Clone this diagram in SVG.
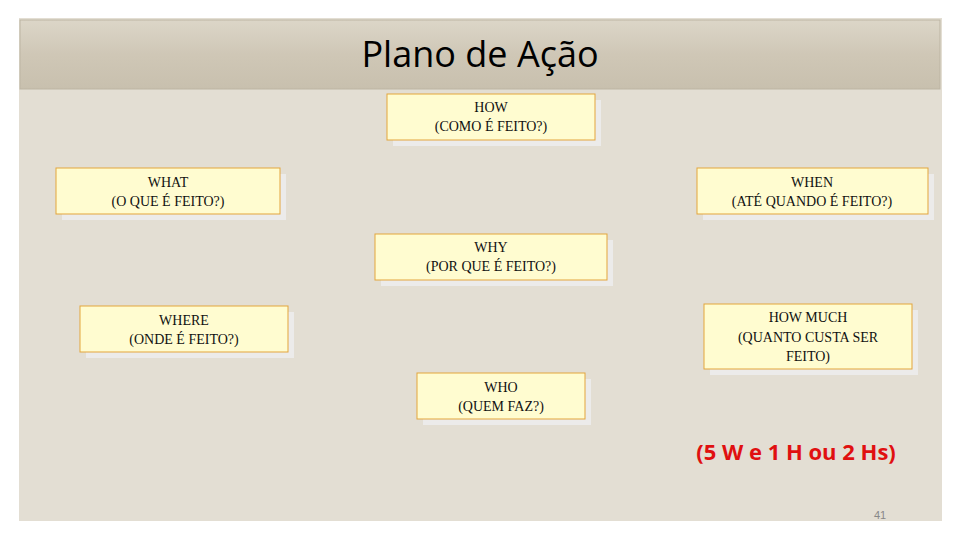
<svg xmlns="http://www.w3.org/2000/svg" width="960" height="540" viewBox="0 0 960 540">
<defs>
<linearGradient id="bar" x1="0" y1="0" x2="0" y2="1"><stop offset="0" stop-color="#dcd6c8"/><stop offset="0.5" stop-color="#cfc7b6"/><stop offset="1" stop-color="#c8c0ae"/></linearGradient>
</defs>
<style>
.sh{fill:#ecebea}
.bx{fill:#fffcd0;stroke:#e3a53c;stroke-width:1}
.t{font-family:"Liberation Serif",serif;font-size:14px;fill:#111;text-anchor:middle}
</style>
<rect width="960" height="540" fill="#fff"/>
<rect x="19" y="18" width="923" height="503" fill="#e3ded3"/>
<rect x="20" y="20" width="920" height="69" fill="url(#bar)" stroke="#bdb5a3"/>
<text x="480" y="67" font-family="Open Sans, 'Liberation Sans', sans-serif" font-size="36" text-anchor="middle" fill="#000">Plano de Ação</text>
<g id="connectors"/>
<g id="how"><rect class="sh" x="393" y="100" width="208" height="46"/><rect class="bx" x="387" y="94" width="208" height="46"/><text class="t" x="491" y="112">HOW</text><text class="t" x="491" y="131">(COMO É FEITO?)</text></g>
<g id="what"><rect class="sh" x="62" y="174" width="224" height="46"/><rect class="bx" x="56" y="168" width="224" height="46"/><text class="t" x="168" y="187">WHAT</text><text class="t" x="168" y="206">(O QUE É FEITO?)</text></g>
<g id="when"><rect class="sh" x="703" y="174" width="231" height="46"/><rect class="bx" x="697" y="168" width="231" height="46"/><text class="t" x="812" y="187">WHEN</text><text class="t" x="812" y="206">(ATÉ QUANDO É FEITO?)</text></g>
<g id="why"><rect class="sh" x="381" y="240" width="232" height="46"/><rect class="bx" x="375" y="234" width="232" height="46"/><text class="t" x="491" y="252">WHY</text><text class="t" x="491" y="271">(POR QUE É FEITO?)</text></g>
<g id="where"><rect class="sh" x="86" y="312" width="208" height="46"/><rect class="bx" x="80" y="306" width="208" height="46"/><text class="t" x="184" y="325">WHERE</text><text class="t" x="184" y="344">(ONDE É FEITO?)</text></g>
<g id="howmuch"><rect class="sh" x="710" y="310" width="208" height="65"/><rect class="bx" x="704" y="304" width="208" height="65"/><text class="t" x="808" y="322">HOW MUCH</text><text class="t" x="808" y="342">(QUANTO CUSTA SER</text><text class="t" x="808" y="361">FEITO)</text></g>
<g id="who"><rect class="sh" x="423" y="379" width="168" height="46"/><rect class="bx" x="417" y="373" width="168" height="46"/><text class="t" x="501" y="392">WHO</text><text class="t" x="501" y="411">(QUEM FAZ?)</text></g>
<text x="796" y="460" font-family="Open Sans, 'Liberation Sans', sans-serif" font-weight="bold" font-size="22" fill="#e01010" text-anchor="middle">(5 W e 1 H ou 2 Hs)</text>
<text x="880" y="519" font-family="'Liberation Sans', sans-serif" font-size="11" fill="#888" text-anchor="middle">41</text>
</svg>
